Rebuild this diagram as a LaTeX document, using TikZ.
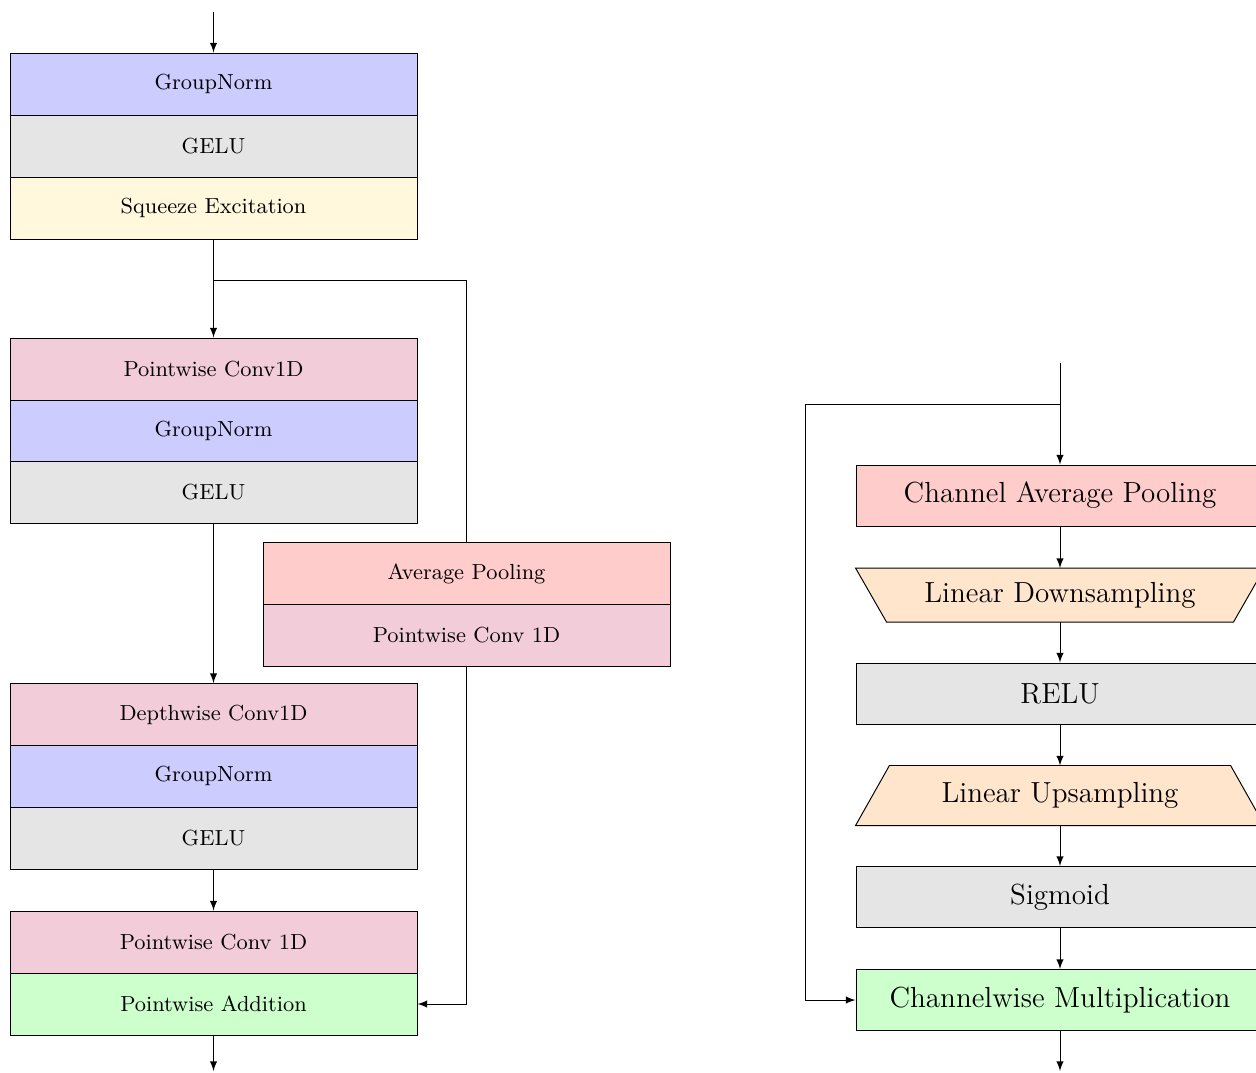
\documentclass[tikz,border=0pt]{standalone}
\usetikzlibrary{backgrounds}
\definecolor{secol}{RGB}{255,248,220}
\tikzset{
  blk/.style={draw=black, line width=0.4pt, minimum width=168.1pt, minimum height=25.6pt, inner sep=0pt, font=\small},
  rblk/.style={draw=black, line width=0.4pt, minimum width=168.5pt, minimum height=25.2pt, inner sep=0pt, font=\large},
  tblk/.style={minimum width=168.5pt, minimum height=21.9pt, inner sep=0pt, font=\large},
  arr/.style={-latex, line width=0.4pt},
  ln/.style={line width=0.4pt}
}
\begin{document}
\begin{tikzpicture}[x=0.413pt, y=-0.413pt]
\useasboundingbox (0,0) rectangle (1256,1072);
% left column
\node[blk, fill=blue!20] (gn1) at (213.5,84) {GroupNorm};
\node[blk, fill=gray!20] (ge1) at (213.5,146) {GELU};
\node[blk, fill=secol] (se) at (213.5,208) {Squeeze Excitation};
\node[blk, fill=purple!20] (pw1) at (213.5,369) {Pointwise Conv1D};
\node[blk, fill=blue!20] (gn2) at (213.5,431) {GroupNorm};
\node[blk, fill=gray!20] (ge2) at (213.5,492.5) {GELU};
\node[blk, fill=red!20] (ap) at (466.5,573.5) {Average Pooling};
\node[blk, fill=purple!20] (pwa) at (466.5,635) {Pointwise Conv 1D};
\node[blk, fill=purple!20] (dw) at (213.5,714.5) {Depthwise Conv1D};
\node[blk, fill=blue!20] (gn3) at (213.5,776) {GroupNorm};
\node[blk, fill=gray!20] (ge3) at (213.5,838) {GELU};
\node[blk, fill=purple!20] (pw3) at (213.5,942) {Pointwise Conv 1D};
\node[blk, fill=green!20] (pa) at (213.5,1004) {Pointwise Addition};
\coordinate (in1) at (213.5,12);
\coordinate (b1) at (213.5,280);
\coordinate (out1) at (213.5,1071);
\draw[arr] (in1) -- (gn1.north);
\draw[arr] (se.south) -- (pw1.north);
\draw[ln] (b1) -| (ap.north);
\draw[arr] (ge2.south) -- (dw.north);
\draw[arr] (pwa.south) |- (pa.east);
\draw[arr] (ge3.south) -- (pw3.north);
\draw[arr] (pa.south) -- (out1);
% right column
\node[rblk, fill=red!20] (cap) at (1060,495.5) {Channel Average Pooling};
\node[tblk] (ds) at (1060,595) {Linear Downsampling};
\node[rblk, fill=gray!20] (relu) at (1060,693.5) {RELU};
\node[tblk, minimum height=24.4pt] (us) at (1060,795.5) {Linear Upsampling};
\node[rblk, fill=gray!20] (sig) at (1060,897) {Sigmoid};
\node[rblk, fill=green!20] (cm) at (1060,1000) {Channelwise Multiplication};
\begin{scope}[on background layer]
\draw[ln, fill=orange!20] (ds.north west) -- (ds.north east) -- ([xshift=-12.8pt]ds.south east) -- ([xshift=12.8pt]ds.south west) -- cycle;
\draw[ln, fill=orange!20] ([xshift=14pt]us.north west) -- ([xshift=-14pt]us.north east) -- (us.south east) -- (us.south west) -- cycle;
\end{scope}
\coordinate (in2) at (1060,363);
\coordinate (b2) at (1060,404);
\coordinate (c2) at (805,404);
\coordinate (out2) at (1060,1071);
\draw[arr] (in2) -- (cap.north);
\draw[arr] (b2) -- (c2) |- (cm.west);
\draw[arr] (cap.south) -- (ds.north);
\draw[arr] (ds.south) -- (relu.north);
\draw[arr] (relu.south) -- (us.north);
\draw[arr] (us.south) -- (sig.north);
\draw[arr] (sig.south) -- (cm.north);
\draw[arr] (cm.south) -- (out2);
\end{tikzpicture}
\end{document}
